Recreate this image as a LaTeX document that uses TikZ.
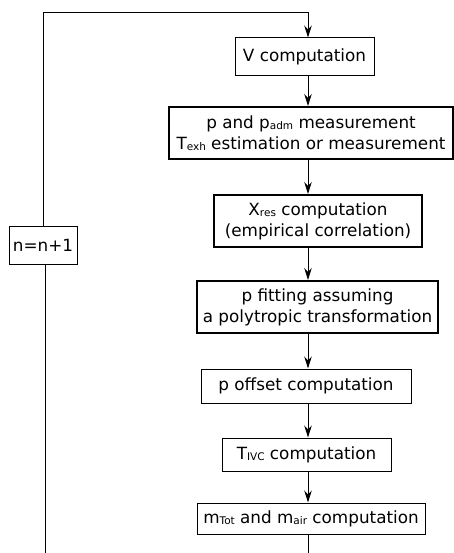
\documentclass[tikz,border=0pt]{standalone}
\usepackage{fontspec}
\setmainfont{DejaVu Sans}
\usetikzlibrary{arrows.meta}
\newcommand{\lowidx}[1]{\raisebox{-0.08em}{\fontsize{10.5}{10.5}\selectfont #1}}

\begin{document}
\begin{tikzpicture}[x=1pt,y=-1pt]
        % 스타일 정의
        \tikzset{stepbox/.style={draw, line width=1pt, inner sep=0pt, align=center, font=\fontsize{16.8}{21}\selectfont}}
        \tikzset{bigbox/.style={stepbox, line width=2pt}}
        \tikzset{flow/.style={-{Stealth[length=12pt,width=7.5pt,inset=4pt]}, line width=0.8pt}}

        \useasboundingbox (0,0) rectangle (454,553);

        % 1. 계산 단계 상자들
        \node[stepbox, minimum width=139, minimum height=38] (vcomp) at (304.5,57) {V computation};
        \node[bigbox, minimum width=284, minimum height=52] (pmeas) at (311,133) {p and p\lowidx{adm} measurement\\T\lowidx{exh} estimation or measurement};
        \node[bigbox, minimum width=208, minimum height=52] (xres) at (318,221) {X\lowidx{res} computation\\(empirical correlation)};
        \node[bigbox, minimum width=241, minimum height=52] (pfit) at (317.5,307) {p fitting assuming\\a polytropic transformation};
        \node[stepbox, minimum width=210, minimum height=34] (poff) at (306,386) {p offset computation};
        \node[stepbox, minimum width=169, minimum height=33] (tivc) at (306.5,454.5) {T\lowidx{IVC} computation};
        \node[stepbox, minimum width=228, minimum height=31] (mass) at (311,518.5) {m\lowidx{Tot} and m\lowidx{air} computation};
        \node[stepbox, minimum width=68, minimum height=38] (loop) at (43,245) {n=n+1};

        % 2. 연결선
        \coordinate (spine) at (308,12);
        \coordinate (mout) at (308,553);
        \coordinate (nin) at (45,553);

        \draw[flow] (loop.north) |- (spine) -- (vcomp.north -| spine);
        \draw[flow] (vcomp.south -| spine) -- (pmeas.north -| spine);
        \draw[flow] (pmeas.south -| spine) -- (xres.north -| spine);
        \draw[flow] (xres.south -| spine) -- (pfit.north -| spine);
        \draw[flow] (pfit.south -| spine) -- (poff.north -| spine);
        \draw[flow] (poff.south -| spine) -- (tivc.north -| spine);
        \draw[flow] (tivc.south -| spine) -- (mass.north -| spine);
        \draw[line width=0.8pt] (mass.south -| mout) -- (mout);
        \draw[line width=0.8pt] (nin) -- (loop.south -| nin);
    \end{tikzpicture}
\end{document}
